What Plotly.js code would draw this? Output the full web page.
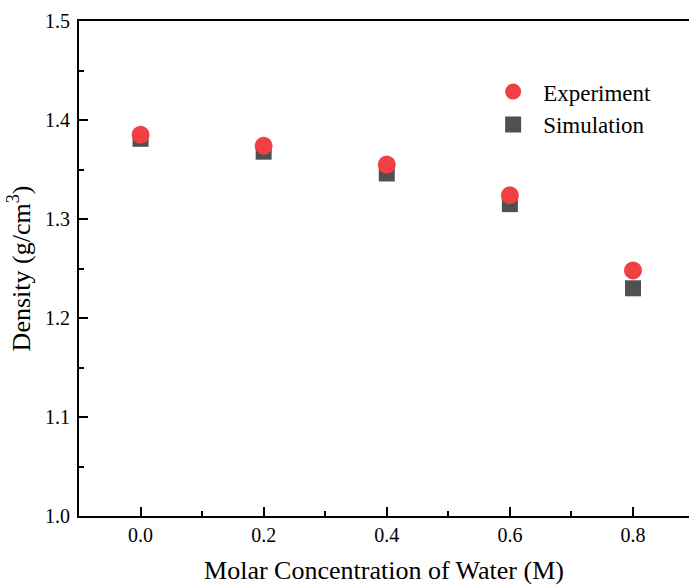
<!DOCTYPE html>
<html>
<head>
<meta charset="utf-8">
<script src="https://cdn.plot.ly/plotly-3.0.1.min.js"></script>
<style>html,body{margin:0;padding:0;background:#fff;}#chart{width:689px;height:585px;}</style>
</head>
<body>
<div id="chart"></div>
<script>
const concentration = [0.0, 0.2, 0.4, 0.6, 0.8];
const experiment = [1.385, 1.374, 1.355, 1.324, 1.248];
const simulation = [1.381, 1.368, 1.346, 1.315, 1.230];
const xTicks = [0.0, 0.2, 0.4, 0.6, 0.8];
const xTickLabels = ['0.0', '0.2', '0.4', '0.6', '0.8'];
const yTicks = [1.0, 1.1, 1.2, 1.3, 1.4, 1.5];
const yTickLabels = ['1.0', '1.1', '1.2', '1.3', '1.4', '1.5'];

const font = '"Liberation Serif", "Times New Roman", serif';

const traces = [
  {
    x: concentration, y: simulation, name: 'Simulation', type: 'scatter', mode: 'markers',
    marker: {symbol: 'square', size: 16, color: '#505050'}, legendrank: 2, cliponaxis: false
  },
  {
    x: concentration, y: experiment, name: 'Experiment', type: 'scatter', mode: 'markers',
    marker: {symbol: 'circle', size: 18, color: '#F04043'}, legendrank: 1, cliponaxis: false
  }
];

const layout = {
  width: 689, height: 585,
  margin: {l: 79, r: 0, t: 21, b: 69},
  paper_bgcolor: '#fff', plot_bgcolor: '#fff',
  font: {family: font, color: '#000', size: 20},
  showlegend: true,
  legend: {x: 0.6625, y: 0.824, xanchor: 'left', yanchor: 'middle', font: {family: font, size: 23, color: '#000'},
           bgcolor: 'rgba(0,0,0,0)', itemwidth: 50, tracegroupgap: 0},
  xaxis: {
    range: [-0.1, 0.891], showgrid: false, zeroline: false,
    showline: true, linecolor: '#000', linewidth: 2, mirror: true,
    ticks: 'inside', ticklen: 9, tickwidth: 2, tickcolor: '#000',
    tickvals: xTicks, ticktext: xTickLabels, tickfont: {family: font, size: 20},
    minor: {ticks: 'inside', ticklen: 5, tickwidth: 2, tickcolor: '#000', dtick: 0.1, showgrid: false},
    title: {text: 'Molar Concentration of Water (M)', font: {family: font, size: 26}, standoff: 20}
  },
  yaxis: {
    range: [1.0, 1.5], showgrid: false, zeroline: false,
    showline: true, linecolor: '#000', linewidth: 2,
    ticks: 'inside', ticklen: 9, tickwidth: 2, tickcolor: '#000', ticklabelstandoff: 3,
    tickvals: yTicks, ticktext: yTickLabels, tickfont: {family: font, size: 20},
    minor: {ticks: 'inside', ticklen: 5, tickwidth: 2, tickcolor: '#000', dtick: 0.05, showgrid: false},
    title: {text: 'Density (g/cm<sup>3</sup>)', font: {family: font, size: 26}, standoff: 7}
  }
};

Plotly.newPlot('chart', traces, layout, {displayModeBar: false, staticPlot: true});
</script>
</body>
</html>
